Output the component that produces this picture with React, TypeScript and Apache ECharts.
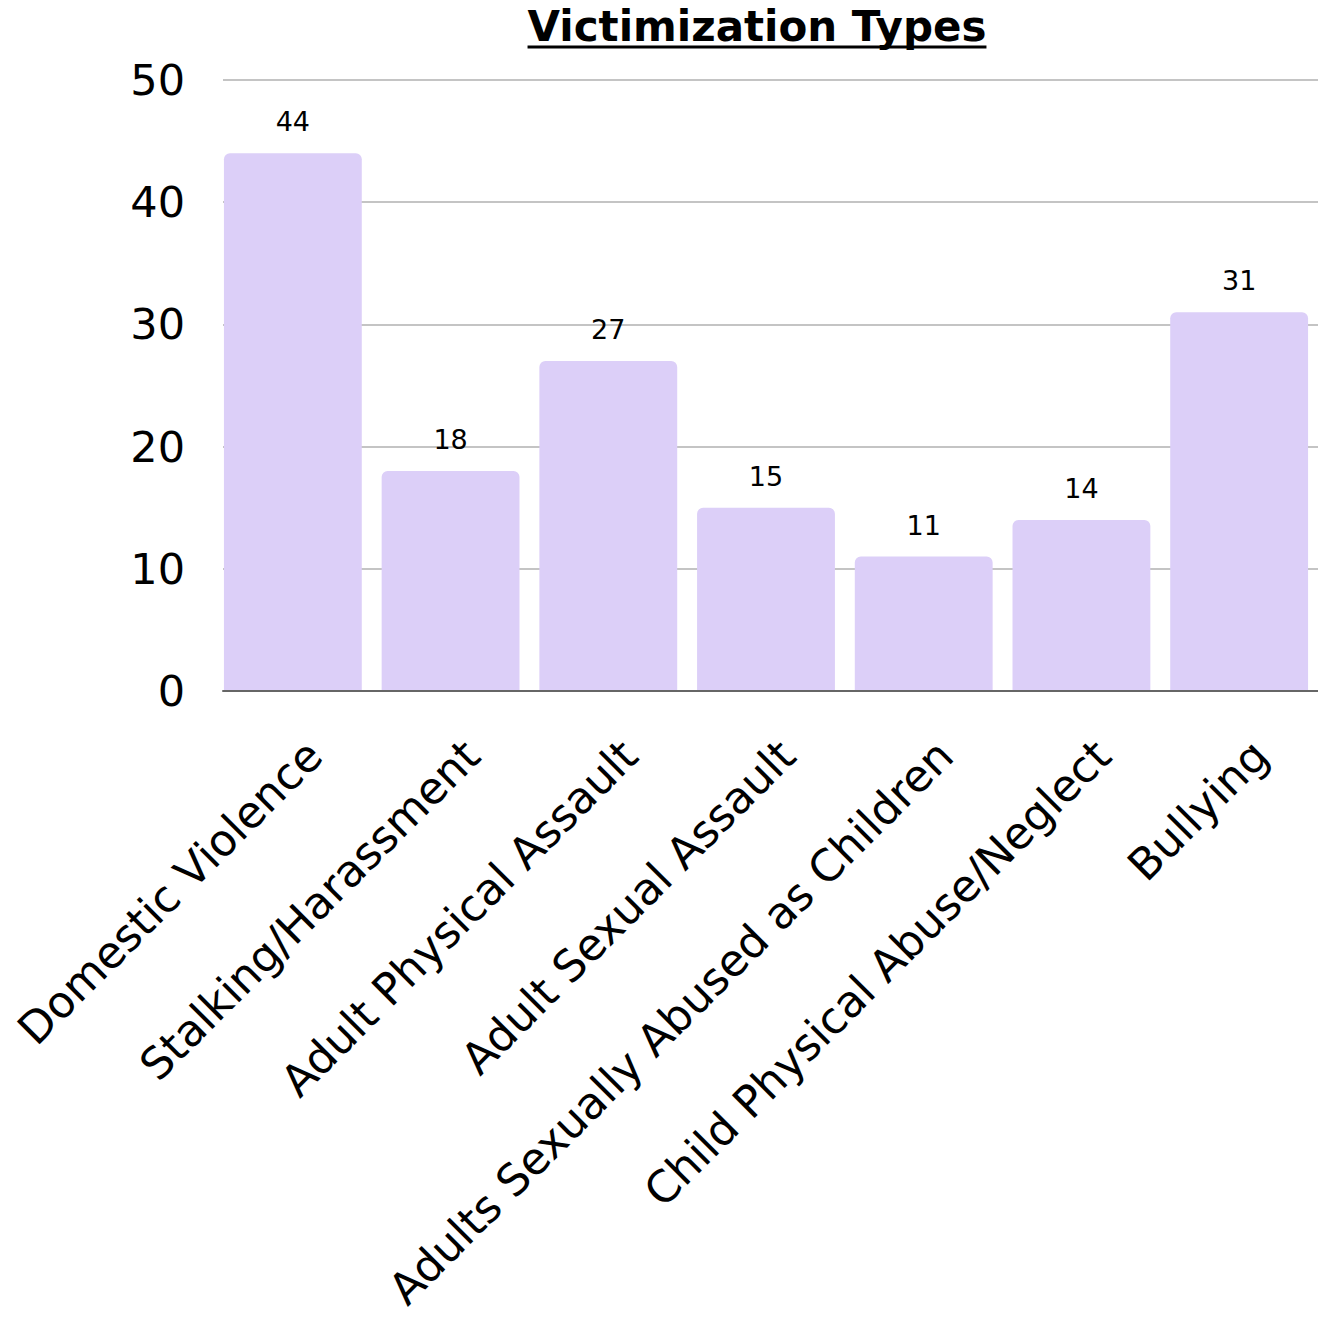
import React, { useEffect, useRef } from "react";
import * as echarts from "echarts";

const categories = [
  "Domestic Violence",
  "Stalking/Harassment",
  "Adult Physical Assault",
  "Adult Sexual Assault",
  "Adults Sexually Abused as Children",
  "Child Physical Abuse/Neglect",
  "Bullying",
];
const values = [44, 18, 27, 15, 11, 14, 31];
const yTicks = [0, 10, 20, 30, 40, 50];
const titleText = "Victimization Types";

const FONT = "DejaVu Sans";

export default function App() {
  const ref = useRef<HTMLDivElement>(null);
  useEffect(() => {
    document.body.style.margin = "0";
    const chart = echarts.init(ref.current!, null, { renderer: "svg" });
    const titleFont = `bold 42px "${FONT}"`;
    const ctx = document.createElement("canvas").getContext("2d")!;
    ctx.font = titleFont;
    const tw = ctx.measureText(titleText).width;
    const cx = 757;
    const yMin = yTicks[0];
    const yMax = yTicks[yTicks.length - 1];
    chart.setOption({
      animation: false,
      backgroundColor: "#ffffff",
      graphic: [
        {
          type: "text",
          x: cx,
          y: 26,
          style: {
            text: titleText,
            font: titleFont,
            fill: "#000",
            align: "center",
            verticalAlign: "middle",
          },
        },
        {
          type: "line",
          shape: { x1: cx - tw / 2, y1: 47, x2: cx + tw / 2, y2: 47 },
          style: { stroke: "#000", lineWidth: 3 },
        },
      ],
      grid: [
        { left: 223, right: 0, top: 80, bottom: 630, containLabel: false },
        { left: 214, right: -10, top: 80, bottom: 630, containLabel: false },
      ],
      xAxis: [
        {
          type: "category",
          gridIndex: 0,
          data: categories,
          axisLine: { show: true, lineStyle: { color: "#666", width: 2 } },
          axisTick: { show: false },
          axisLabel: { show: false },
          z: 5,
        },
        {
          type: "category",
          gridIndex: 1,
          data: categories,
          axisLine: { show: false },
          axisTick: { show: false },
          axisLabel: {
            rotate: 45,
            interval: 0,
            margin: 78,
            padding: [0, -30, 0, 0],
            fontFamily: FONT,
            fontSize: 44,
            color: "#000",
          },
        },
      ],
      yAxis: [
        {
          type: "value",
          gridIndex: 0,
          min: yMin,
          max: yMax,
          interval: 10,
          axisLine: { show: false },
          axisTick: { show: false },
          splitLine: { lineStyle: { color: "#c4c4c4", width: 2 } },
          axisLabel: { margin: 38, fontFamily: FONT, fontSize: 43, color: "#000" },
        },
        {
          type: "value",
          gridIndex: 1,
          min: yMin,
          max: yMax,
          interval: 10,
          axisLine: { show: false },
          axisTick: { show: false },
          splitLine: { show: false },
          axisLabel: { show: false },
        },
      ],
      series: [
        {
          type: "bar",
          xAxisIndex: 1,
          yAxisIndex: 1,
          data: values,
          barCategoryGap: "12.6%",
          itemStyle: { color: "#dccff8", borderRadius: [6, 6, 0, 0] },
          label: {
            show: true,
            position: "top",
            distance: 18,
            fontFamily: FONT,
            fontSize: 27,
            color: "#000",
          },
        },
      ],
    });
    return () => chart.dispose();
  }, []);
  return <div ref={ref} style={{ width: 1318, height: 1321 }} />;
}
